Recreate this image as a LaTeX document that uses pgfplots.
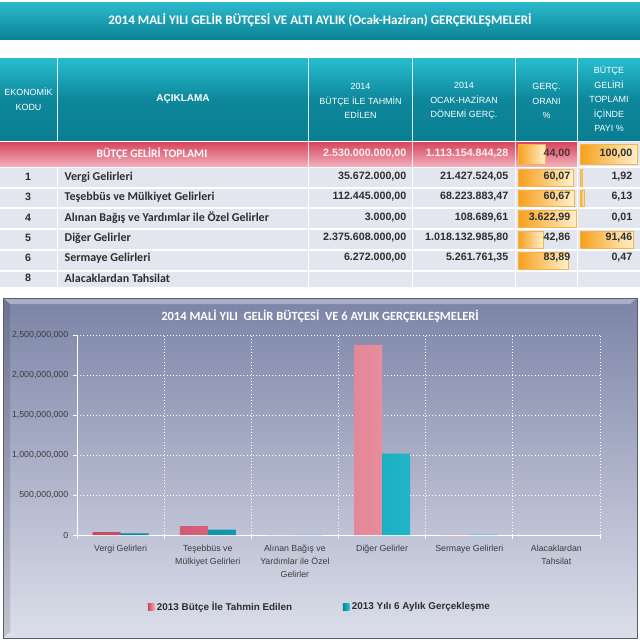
\documentclass[border=0pt]{standalone}
\usepackage{pgfplots}
\pgfplotsset{compat=1.18}
\usepackage{fontspec}
\setmainfont{Liberation Sans}
\newfontfamily\carl{Carlito}
\definecolor{bannerT}{HTML}{2DBACD}
\definecolor{bannerB}{HTML}{0B8397}
\definecolor{tealL}{HTML}{27BDD0}
\definecolor{tealD}{HTML}{0A7E92}
\definecolor{rowbg}{HTML}{E3E6EE}
\definecolor{pinkD}{HTML}{D8455D}
\definecolor{pinkL}{HTML}{F2AEBA}
\definecolor{orangeB}{HTML}{F6A01A}
\definecolor{orangeL}{HTML}{FFEFCB}
\definecolor{panelT}{HTML}{7C84A7}
\definecolor{panelB}{HTML}{DCDFEA}
\definecolor{barPD}{HTML}{C9465E}
\definecolor{barPL}{HTML}{F0A3B1}
\definecolor{barTD}{HTML}{0C8497}
\definecolor{barTL}{HTML}{25C3D6}
\definecolor{txt}{HTML}{2E2E2E}
\definecolor{tick}{HTML}{3C3C3C}

\pgfplotstableread{
x  budget       real
0  35672000     21427524.05
1  112445000    68223883.47
2  3000         108689.61
3  2375608000   1018132985.80
4  6272000      5261761.35
}\gelir

\begin{document}
\begin{tikzpicture}[x=0.75pt,y=-0.75pt]
\useasboundingbox (0,0) rectangle (640,644);
% ---------- banner
\shade[top color=bannerT, bottom color=bannerB] (0,2) rectangle (640,39);
\node[text=white, font=\carl\bfseries\fontsize{9.8}{11}\selectfont] at (320,20.5)
  {2014 MALİ YILI GELİR BÜTÇESİ VE ALTI AYLIK (Ocak-Haziran) GERÇEKLEŞMELERİ};
% ---------- header
\foreach \a/\b in {0/57, 58/308, 309/412, 413/515, 516/577, 578/640}
  \shade[top color=tealL, bottom color=tealD, middle color=tealD!85!tealL] (\a,58) rectangle (\b,140);
\begin{scope}[every node/.style={text=white, align=center, font=\fontsize{6.7}{11}\selectfont}]
\node at (28.5,99) {EKONOMİK\\KODU};
\node[font=\bfseries\fontsize{7.5}{9}\selectfont] at (183,99) {AÇIKLAMA};
\node at (360.5,101) {2014\\BÜTÇE İLE TAHMİN\\EDİLEN};
\node at (464,101) {2014\\OCAK-HAZİRAN\\DÖNEMİ GERÇ.};
\node at (546.5,101) {GERÇ.\\ORANI\\\%};
\node[font=\fontsize{6.7}{10.9}\selectfont] at (609,99) {BÜTÇE\\GELİRİ\\TOPLAMI\\İÇİNDE\\PAYI \%};
\end{scope}
% ---------- total row
\shade[top color=pinkD, bottom color=pinkL] (0,142) rectangle (308,166);
\shade[top color=pinkD, bottom color=pinkL] (309,142) rectangle (412,166);
\shade[top color=pinkD, bottom color=pinkL] (413,142) rectangle (515,166);
\shade[top color=pinkD, bottom color=pinkL] (516,142) rectangle (577,166);
\fill[rowbg] (578,142) rectangle (640,166);
% ---------- data rows background
\foreach \t/\bb in {167/187, 188/207, 208/228, 229/249, 250/270, 271/287}
  \foreach \a/\b in {0/57, 58/308, 309/412, 413/515, 516/577, 578/640}
    \fill[rowbg] (\a,\t+1) rectangle (\b,\bb);
% ---------- data bars (cell formatting)
\foreach \yt/\yb/\l in {144/164/545, 169/186/573, 190/206/574, 210/227/576, 231/248/543, 252/269/568}
  \shade[left color=orangeB, right color=orangeL, draw=orangeB!80] (518,\yt) rectangle (\l,\yb);
\foreach \yt/\yb/\l in {144/164/637, 169/186/582, 190/206/584, 231/248/633}
  \shade[left color=orangeB, right color=orangeL, draw=orangeB!80] (580,\yt) rectangle (\l,\yb);
% ---------- total row texts
\node[text=white, font=\carl\bfseries\fontsize{8.6}{10}\selectfont] at (152,154) {BÜTÇE GELİRİ TOPLAMI};
\begin{scope}[every node/.style={anchor=east, font=\bfseries\fontsize{8}{9}\selectfont}]
\node[text=white!92!pinkD] at (411,154) {2.530.000.000,00};
\node[text=white!92!pinkD] at (513,154) {1.113.154.844,28};
\node[text=txt!80!pinkD] at (575,154) {44,00};
\node[text=txt] at (637,154) {100,00};
\end{scope}
% ---------- data rows texts
\begin{scope}[every node/.style={font=\bfseries\fontsize{8}{9}\selectfont, text=txt}]
\foreach \y/\c/\n in {177/1/Vergi Gelirleri, 197/3/Teşebbüs ve Mülkiyet Gelirleri, 218/4/Alınan Bağış ve Yardımlar ile Özel Gelirler, 238/5/Diğer Gelirler, 258/6/Sermaye Gelirleri, 278/8/Alacaklardan Tahsilat}{
  \node at (28,\y) {\c};
  \node[anchor=west, font=\carl\bfseries\fontsize{9}{10}\selectfont] at (60,\y) {\n};
}
\foreach \y/\p/\q/\r/\s in {177/{35.672.000,00}/{21.427.524,05}/{60,07}/{1,92},
   197/{112.445.000,00}/{68.223.883,47}/{60,67}/{6,13},
   218/{3.000,00}/{108.689,61}/{3.622,99}/{0,01},
   238/{2.375.608.000,00}/{1.018.132.985,80}/{42,86}/{91,46},
   258/{6.272.000,00}/{5.261.761,35}/{83,89}/{0,47}}{
  \node[anchor=east] at (411,\y) {\p};
  \node[anchor=east] at (513,\y) {\q};
  \node[anchor=east] at (575,\y) {\r};
  \node[anchor=east] at (637,\y) {\s};
}
\end{scope}
% ---------- chart panel
\shade[top color=panelT, bottom color=panelB] (3,298) rectangle (637,638);
\fill[white, opacity=0.35] (3,298) -- (637,298) -- (630,304) -- (10,304) -- cycle;
\fill[black, opacity=0.12] (3,298) -- (10,304) -- (10,632) -- (3,638) -- cycle;
\draw[panelT!70!black, line width=0.4pt] (3,298) rectangle (637,638);
\node[text=white, font=\carl\bfseries\fontsize{9.4}{10}\selectfont] at (320,316)
  {2014 MALİ YILI \ GELİR BÜTÇESİ \ VE 6 AYLIK GERÇEKLEŞMELERİ};
\begin{axis}[
  at={(57.75pt,-401.25pt)}, anchor=south west,
  scale only axis, width=392.25pt, height=150pt,
  xmin=-0.5, xmax=5.5, ymin=0, ymax=2.5e9,
  ybar=0pt, bar width=21pt,
  axis x line*=bottom, axis y line*=left,
  axis line style={white, line width=0.6pt},
  xtick={0,...,5},
  xticklabels={Vergi Gelirleri, Teşebbüs ve\\Mülkiyet Gelirleri, Alınan Bağış ve\\Yardımlar ile Özel\\Gelirler, Diğer Gelirler, Sermaye Gelirleri, Alacaklardan\\Tahsilat},
  xticklabel style={align=center, text=tick, font=\fontsize{6.6}{9.8}\selectfont, yshift=-1pt},
  major x tick style={draw=none},
  minor xtick={-0.5,0.5,...,5.5},
  minor x tick style={white, line width=0.6pt},
  xminorgrids, minor x grid style={white, dotted, line width=0.6pt},
  ytick={0,500000000,...,2500000000},
  scaled y ticks=false,
  yticklabel style={text=tick, font=\fontsize{6.6}{8}\selectfont,
     /pgf/number format/.cd, fixed, precision=0, 1000 sep={,}, assume math mode=true},
  y tick style={white, line width=0.6pt},
  ymajorgrids, y grid style={white, dotted, line width=0.6pt},
  tick align=outside, major tick length=3pt, minor tick length=3pt,
  legend style={at={(0.465,-0.36)}, anchor=center, draw=none, fill=none,
     font=\bfseries\fontsize{7.4}{9}\selectfont, text=txt, legend columns=2,
     /tikz/every even column/.append style={column sep=36pt}},
  legend image code/.code={\fill[#1] (0cm,-0.085cm) rectangle (0.17cm,0.085cm);},
]
\addplot[draw=none, left color=barPD, right color=barPL] table[x=x, y=budget] {\gelir};
\addplot[draw=none, left color=barTD, right color=barTL] table[x=x, y=real] {\gelir};
\legend{2013 Bütçe İle Tahmin Edilen, 2013 Yılı 6 Aylık Gerçekleşme}
\end{axis}
\end{tikzpicture}
\end{document}
